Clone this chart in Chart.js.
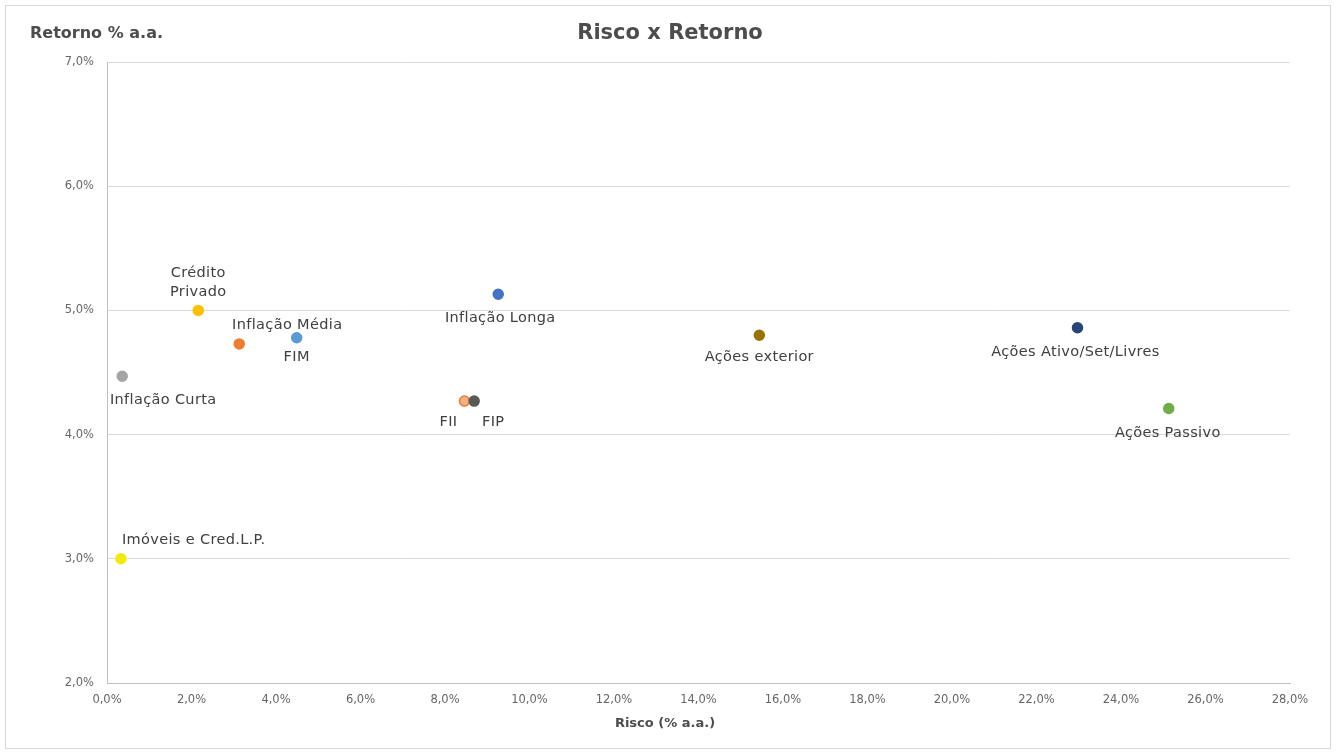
<!DOCTYPE html>
<html lang="pt">
  <head>
    <meta charset="UTF-8" />
    <title>Risco x Retorno</title>
    <style>
      body { margin: 0; background: #fff; }
      .frame { position: absolute; left: 5px; top: 5px; width: 1324px; height: 742px; border: 1px solid #d9d9d9; }
      .wrap { position: absolute; left: 0; top: 0; width: 1336px; height: 753px; }
    </style>
  </head>
  <body>
    <div class="frame"></div>
    <div class="wrap">
      <canvas id="myChart" width="1336" height="753"></canvas>
    </div>

    <script src="https://cdn.jsdelivr.net/npm/chart.js"></script>

    <script>
      // dados (risco e retorno em % a.a.)
      const names = [
        "Imóveis e Cred.L.P.", "Inflação Curta", "Crédito Privado", "Inflação Média",
        "FIM", "Inflação Longa", "FII", "FIP", "Ações exterior",
        "Ações Ativo/Set/Livres", "Ações Passivo"
      ];
      const risco = [0.33, 0.36, 2.16, 3.13, 4.49, 9.26, 8.46, 8.69, 15.44, 22.97, 25.13];
      const retorno = [3.0, 4.47, 5.0, 4.73, 4.78, 5.13, 4.27, 4.27, 4.8, 4.86, 4.21];
      const cores = [
        "#f2ea0a", "#a5a5a5", "#ffc000", "#ed7d31", "#5b9bd5", "#4472c4",
        "#f4b183", "#595959", "#997300", "#264478", "#70ad47"
      ];
      const bordas = [
        "#f2ea0a", "#a5a5a5", "#ffc000", "#ed7d31", "#5b9bd5", "#4472c4",
        "#ed7d31", "#595959", "#997300", "#264478", "#70ad47"
      ];
      const xTicks = { min: 0, max: 28, step: 2 };
      const yTicks = { min: 2, max: 7, step: 1 };

      // deslocamento dos rótulos em relação ao ponto (px)
      const labelPos = [
        { dx: 1, dy: -19, align: "left" },
        { dx: 41, dy: 24, align: "center" },
        { dx: 0, dy: -37, align: "center", lines: ["Crédito", "Privado"] },
        { dx: 48, dy: -19, align: "center" },
        { dx: 0, dy: 20, align: "center" },
        { dx: 2, dy: 24, align: "center" },
        { dx: -16, dy: 21, align: "center" },
        { dx: 19, dy: 21, align: "center" },
        { dx: 0, dy: 22, align: "center" },
        { dx: -2, dy: 24, align: "center" },
        { dx: -1, dy: 25, align: "center" }
      ];

      const fmt = (v) => v.toFixed(1).replace(".", ",") + "%";
      const font = "'DejaVu Sans', sans-serif";

      const textPlugin = {
        id: "textPlugin",
        afterDatasetsDraw(chart) {
          const { ctx, scales: { x, y } } = chart;
          ctx.save();
          ctx.textBaseline = "middle";
          ctx.fillStyle = "#404040";
          ctx.font = "14.5px " + font;
          ctx.letterSpacing = "0.35px";
          names.forEach((n, i) => {
            const p = labelPos[i];
            const px = x.getPixelForValue(risco[i]) + p.dx;
            const py = y.getPixelForValue(retorno[i]) + p.dy;
            ctx.textAlign = p.align;
            const lines = p.lines || [n];
            lines.forEach((l, k) => ctx.fillText(l, px, py + k * 19));
          });

          ctx.letterSpacing = "0px";
          ctx.fillStyle = "#4d4d4d";
          ctx.textAlign = "center";
          ctx.font = "bold 21px " + font;
          ctx.fillText("Risco x Retorno", 670, 34);
          ctx.textAlign = "left";
          ctx.font = "bold 16px " + font;
          ctx.fillText("Retorno % a.a.", 30, 34);
          ctx.textAlign = "center";
          ctx.font = "bold 13px " + font;
          ctx.fillText("Risco (% a.a.)", 665, 724);
          ctx.restore();
        },
      };

      const ctx = document.getElementById("myChart").getContext("2d");
      new Chart(ctx, {
        type: "scatter",
        data: {
          datasets: [
            {
              data: risco.map((r, i) => ({ x: r, y: retorno[i] })),
              pointBackgroundColor: cores,
              pointBorderColor: bordas,
              pointBorderWidth: 1.5,
              pointRadius: 5,
              pointHoverRadius: 6,
            },
          ],
        },
        options: {
          responsive: false,
          animation: false,
          layout: { padding: { left: 0, top: 62, right: 46, bottom: 0 } },
          plugins: {
            legend: { display: false },
            tooltip: { enabled: true },
          },
          scales: {
            x: {
              type: "linear",
              min: xTicks.min,
              max: xTicks.max,
              afterFit: (s) => { s.height = 70; },
              grid: { display: false, drawTicks: false },
              border: { display: true, color: "#bfbfbf" },
              ticks: {
                stepSize: xTicks.step,
                padding: 10,
                color: "#666666",
                font: { family: font, size: 11.5 },
                maxRotation: 0,
                callback: fmt,
              },
            },
            y: {
              type: "linear",
              min: yTicks.min,
              max: yTicks.max,
              afterFit: (s) => { s.width = 107; },
              grid: { color: "#d9d9d9", drawTicks: false },
              border: { display: true, color: "#bfbfbf" },
              ticks: {
                stepSize: yTicks.step,
                padding: 13,
                color: "#666666",
                font: { family: font, size: 11.5 },
                callback: fmt,
              },
            },
          },
        },
        plugins: [textPlugin],
      });
    </script>
  </body>
</html>
